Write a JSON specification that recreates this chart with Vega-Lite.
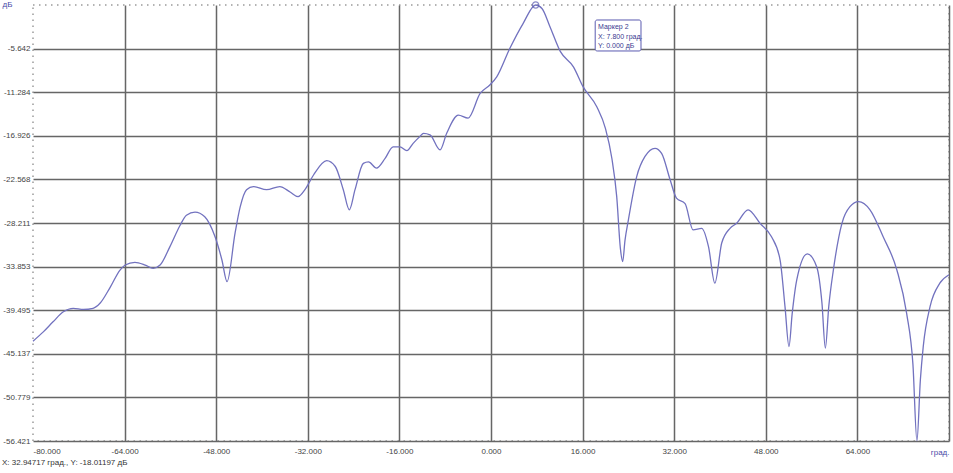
{
  "$schema": "https://vega.github.io/schema/vega-lite/v6.json",
  "width": 916,
  "height": 436,
  "autosize": "none",
  "padding": {"left": 33, "top": 5, "right": 4, "bottom": 32},
  "background": "white",
  "config": {
    "view": {"stroke": "#9a9a9a", "strokeDash": [1.5, 4.5], "strokeWidth": 1.5},
    "font": "Liberation Sans"
  },
  "title": {
    "text": "X: 32.94717 град., Y: -18.01197 дБ",
    "orient": "bottom",
    "anchor": "start",
    "frame": "group",
    "dx": -31,
    "offset": 3,
    "fontSize": 8,
    "fontWeight": "normal",
    "color": "#333333",
    "font": "Liberation Sans"
  },
  "datasets": {
    "curve": [
      {"deg": -80.0, "db": -43.5}, {"deg": -78.2, "db": -42.3}, {"deg": -76.5, "db": -41.0},
      {"deg": -74.7, "db": -39.7}, {"deg": -72.96, "db": -39.25}, {"deg": -71.2, "db": -39.4},
      {"deg": -69.5, "db": -39.25}, {"deg": -68.3, "db": -38.6}, {"deg": -66.5, "db": -36.5},
      {"deg": -64.8, "db": -34.3}, {"deg": -63.9, "db": -33.65}, {"deg": -62.2, "db": -33.3},
      {"deg": -60.4, "db": -33.65}, {"deg": -59.0, "db": -34.07}, {"deg": -57.8, "db": -33.65},
      {"deg": -56.1, "db": -31.3}, {"deg": -54.3, "db": -28.5}, {"deg": -53.2, "db": -27.2},
      {"deg": -51.7, "db": -26.8}, {"deg": -50.0, "db": -27.4}, {"deg": -48.2, "db": -30.0},
      {"deg": -47.0, "db": -33.0}, {"deg": -46.1, "db": -35.8}, {"deg": -44.7, "db": -29.5},
      {"deg": -43.8, "db": -26.1}, {"deg": -42.7, "db": -23.9}, {"deg": -41.5, "db": -23.5},
      {"deg": -39.2, "db": -23.9}, {"deg": -36.9, "db": -23.5}, {"deg": -35.1, "db": -24.2},
      {"deg": -33.7, "db": -24.8}, {"deg": -32.5, "db": -23.9}, {"deg": -31.0, "db": -22.0},
      {"deg": -28.7, "db": -20.15}, {"deg": -27.2, "db": -20.9}, {"deg": -25.8, "db": -23.9},
      {"deg": -24.75, "db": -26.5}, {"deg": -23.75, "db": -23.9}, {"deg": -22.3, "db": -20.5},
      {"deg": -21.4, "db": -20.3}, {"deg": -20.0, "db": -21.1}, {"deg": -18.5, "db": -19.85},
      {"deg": -17.1, "db": -18.35}, {"deg": -15.9, "db": -18.35}, {"deg": -14.7, "db": -18.85},
      {"deg": -13.6, "db": -17.9}, {"deg": -12.4, "db": -17.0}, {"deg": -11.8, "db": -16.6},
      {"deg": -10.65, "db": -16.8}, {"deg": -8.9, "db": -18.75}, {"deg": -7.74, "db": -16.6},
      {"deg": -5.7, "db": -14.25}, {"deg": -4.0, "db": -14.65}, {"deg": -1.9, "db": -11.45},
      {"deg": -0.2, "db": -10.35}, {"deg": 1.0, "db": -9.3}, {"deg": 3.3, "db": -5.6},
      {"deg": 5.6, "db": -2.4}, {"deg": 7.8, "db": 0.0}, {"deg": 8.9, "db": -0.45},
      {"deg": 10.3, "db": -2.8}, {"deg": 12.1, "db": -6.0}, {"deg": 14.4, "db": -8.0},
      {"deg": 16.1, "db": -10.6}, {"deg": 18.5, "db": -13.2}, {"deg": 20.0, "db": -16.0},
      {"deg": 21.1, "db": -19.8}, {"deg": 21.96, "db": -24.8}, {"deg": 22.6, "db": -31.5},
      {"deg": 23.0, "db": -33.2}, {"deg": 23.4, "db": -30.5}, {"deg": 24.0, "db": -27.8},
      {"deg": 25.45, "db": -22.2}, {"deg": 26.9, "db": -19.6}, {"deg": 28.65, "db": -18.55},
      {"deg": 29.8, "db": -19.2}, {"deg": 31.3, "db": -22.65}, {"deg": 32.4, "db": -25.0},
      {"deg": 33.9, "db": -25.7}, {"deg": 35.3, "db": -29.1}, {"deg": 36.8, "db": -28.9},
      {"deg": 38.0, "db": -31.3}, {"deg": 39.1, "db": -36.0}, {"deg": 40.3, "db": -30.8},
      {"deg": 41.75, "db": -28.9}, {"deg": 42.9, "db": -28.25}, {"deg": 44.9, "db": -26.5},
      {"deg": 47.0, "db": -28.25}, {"deg": 49.0, "db": -30.0}, {"deg": 50.5, "db": -33.0},
      {"deg": 51.35, "db": -39.0}, {"deg": 52.05, "db": -44.2}, {"deg": 52.6, "db": -40.0},
      {"deg": 53.4, "db": -35.6}, {"deg": 55.25, "db": -32.2}, {"deg": 56.9, "db": -33.9},
      {"deg": 57.8, "db": -38.5}, {"deg": 58.4, "db": -44.4}, {"deg": 59.0, "db": -39.0},
      {"deg": 59.8, "db": -34.3}, {"deg": 61.3, "db": -28.25}, {"deg": 62.7, "db": -26.1},
      {"deg": 64.2, "db": -25.45}, {"deg": 66.2, "db": -26.5}, {"deg": 68.5, "db": -30.0},
      {"deg": 70.9, "db": -34.3}, {"deg": 72.6, "db": -39.9}, {"deg": 73.7, "db": -46.5},
      {"deg": 74.4, "db": -56.4}, {"deg": 75.0, "db": -48.5}, {"deg": 75.5, "db": -44.2},
      {"deg": 76.7, "db": -39.0}, {"deg": 78.4, "db": -36.0}, {"deg": 80.0, "db": -34.9}
    ],
    "marker": [{"deg": 7.8, "db": 0.0}],
    "box": [{"x1": 18.2, "x2": 26.2, "y1": -1.94, "y2": -5.95}],
    "boxtext": [
      {"deg": 18.7, "db": -2.85, "label": "Маркер 2"},
      {"deg": 18.7, "db": -4.12, "label": "X: 7.800 град."},
      {"deg": 18.7, "db": -5.3, "label": "Y: 0.000 дБ"}
    ]
  },
  "layer": [
    {
      "data": {"name": "curve"},
      "mark": {"type": "line", "color": "#7272bf", "strokeWidth": 1.3, "interpolate": "monotone"},
      "encoding": {
        "x": {
          "field": "deg", "type": "quantitative",
          "scale": {"domain": [-80, 80], "nice": false, "zero": false},
          "axis": {
            "values": [-80, -64, -48, -32, -16, 0, 16, 32, 48, 64, 80],
            "labelExpr": "datum.value == 80 ? '' : replace(format(datum.value, '.3f'), '\u2212', '-')",
            "grid": true,
            "gridColor": "#666666",
            "gridWidth": 1.5,
            "gridOpacity": {"condition": {"test": "datum.value == -80", "value": 0}, "value": 1},
            "domain": false,
            "ticks": false,
            "labelFontSize": 8,
            "labelColor": "#444444",
            "labelPadding": 6,
            "labelFont": "Liberation Sans",
            "title": "град.",
            "titleFontSize": 8,
            "titleFontWeight": "normal",
            "titleColor": "#4a4aa8",
            "titleX": 916,
            "titleY": 11,
            "titleAlign": "right",
            "titleBaseline": "middle"
          }
        },
        "y": {
          "field": "db", "type": "quantitative",
          "scale": {"domain": [-56.421, 0], "nice": false, "zero": false},
          "axis": {
            "values": [-5.642, -11.284, -16.926, -22.568, -28.211, -33.853, -39.495, -45.137, -50.779, -56.421],
            "labelExpr": "replace(format(datum.value, '.3f'), '\u2212', '-')",
            "grid": true,
            "gridColor": "#666666",
            "gridWidth": 1.5,
            "domain": false,
            "ticks": false,
            "labelFontSize": 8,
            "labelColor": "#444444",
            "labelPadding": 3,
            "labelFont": "Liberation Sans",
            "title": "дБ",
            "titleAngle": 0,
            "titleFontSize": 8,
            "titleFontWeight": "normal",
            "titleColor": "#4a4aa8",
            "titleX": -31,
            "titleY": -1,
            "titleAlign": "left",
            "titleBaseline": "middle"
          }
        }
      }
    },
    {
      "data": {"name": "marker"},
      "mark": {"type": "point", "shape": "circle", "size": 40, "stroke": "#5a5ab0", "strokeWidth": 1.2, "filled": false, "clip": false},
      "encoding": {
        "x": {"field": "deg", "type": "quantitative"},
        "y": {"field": "db", "type": "quantitative"}
      }
    },
    {
      "data": {"name": "box"},
      "mark": {"type": "rect", "fill": "white", "stroke": "#5a5ab0", "strokeWidth": 1, "cornerRadius": 2},
      "encoding": {
        "x": {"field": "x1", "type": "quantitative"},
        "x2": {"field": "x2"},
        "y": {"field": "y1", "type": "quantitative"},
        "y2": {"field": "y2"}
      }
    },
    {
      "data": {"name": "boxtext"},
      "mark": {"type": "text", "align": "left", "baseline": "middle", "fontSize": 7, "color": "#3a3a90", "font": "Liberation Sans"},
      "encoding": {
        "x": {"field": "deg", "type": "quantitative"},
        "y": {"field": "db", "type": "quantitative"},
        "text": {"field": "label"}
      }
    }
  ]
}
